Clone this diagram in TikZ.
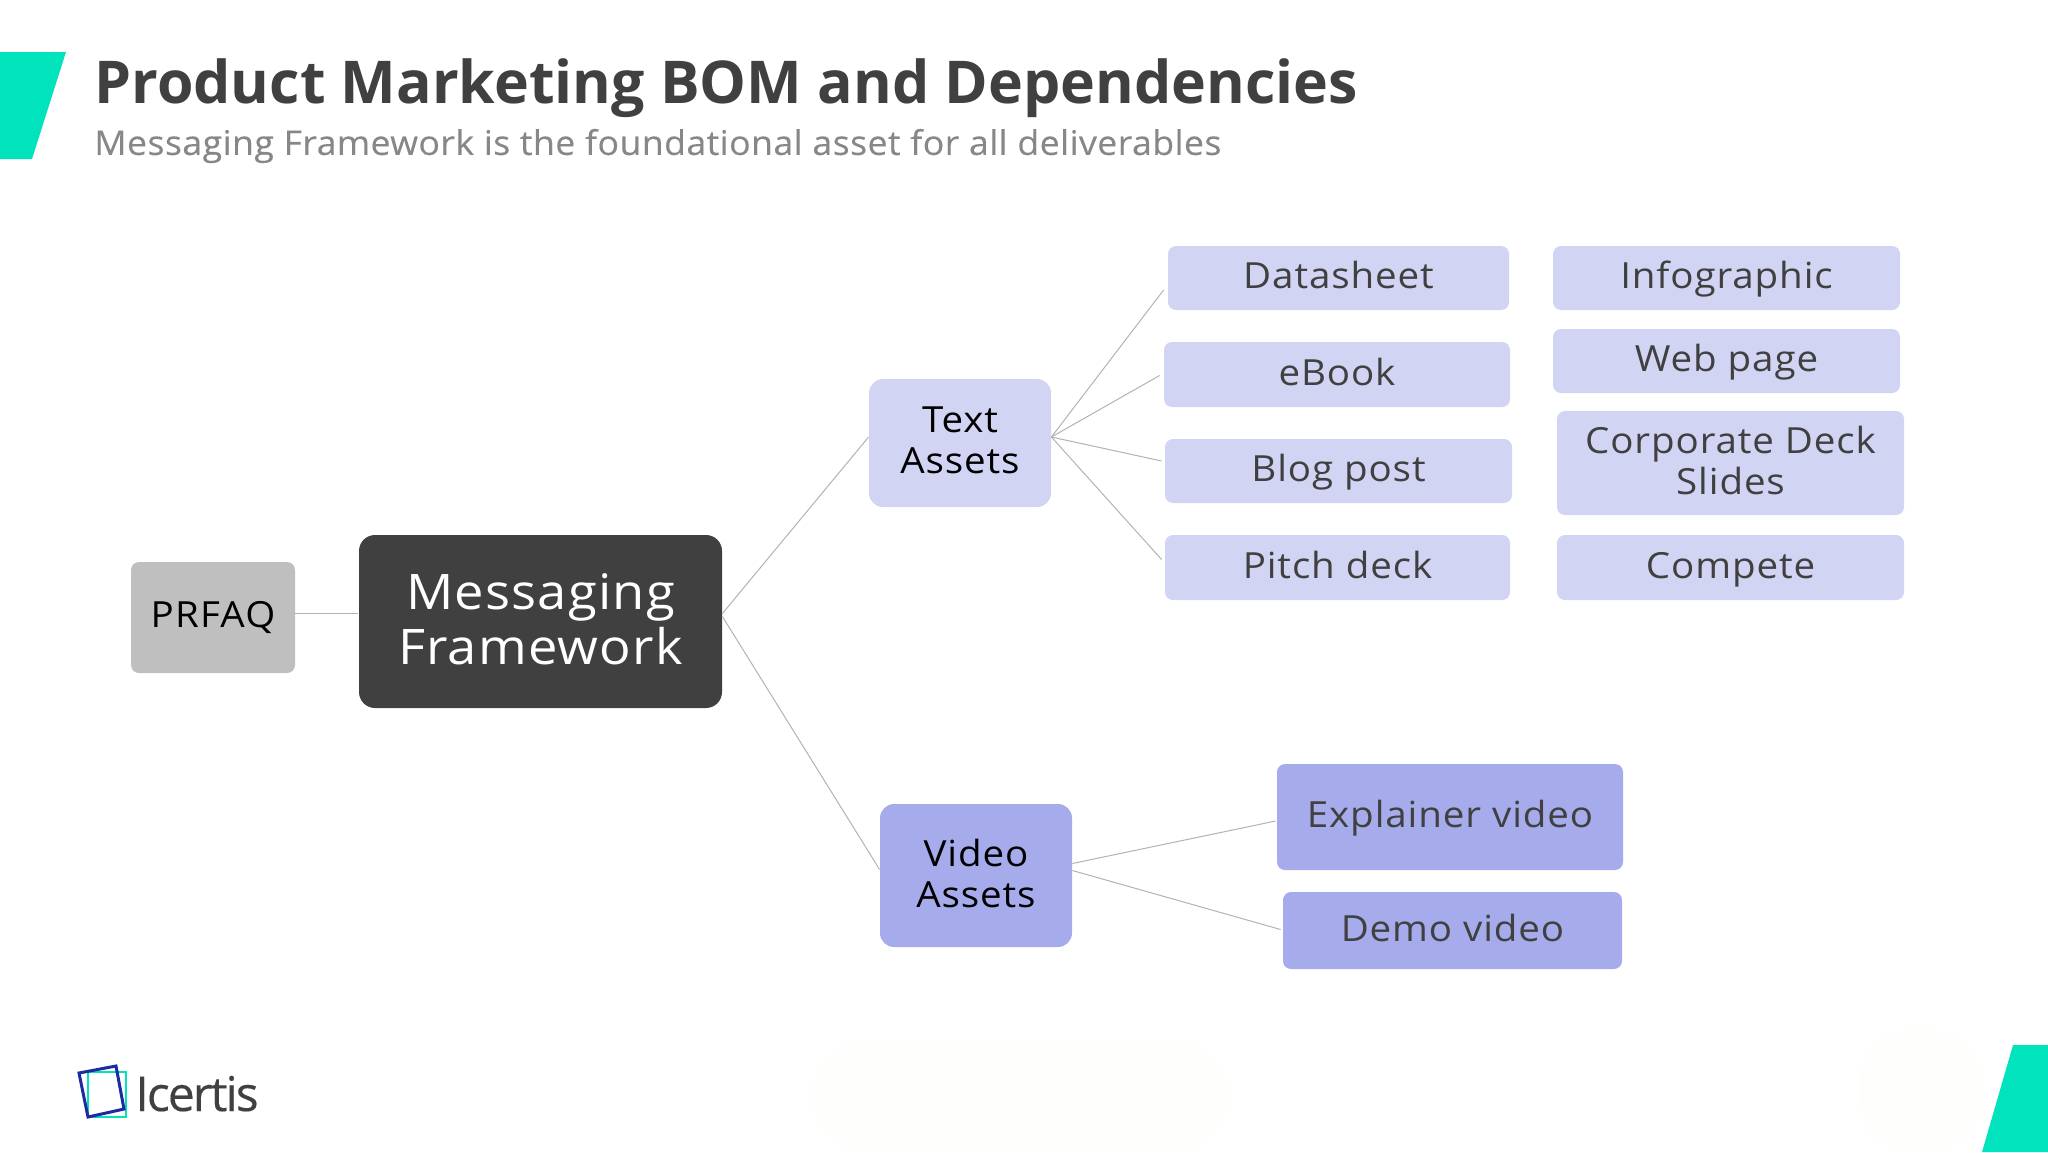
\documentclass[tikz,border=0pt]{standalone}
\usepackage{fontspec}
\setmainfont{Open Sans}
\usetikzlibrary{positioning}

\definecolor{teal1}{HTML}{00E3BD}
\definecolor{ink}{HTML}{404040}
\definecolor{paleblue}{HTML}{D2D4F4}
\definecolor{midblue}{HTML}{A6ABEB}
\definecolor{navy}{HTML}{1E2AA0}
\definecolor{faint}{HTML}{FEFEFC}

\newcommand{\spaced}{\addfontfeatures{FakeStretch=1.07,LetterSpace=2.5}}

\tikzset{
  asset/.style={fill=paleblue,text=ink,rounded corners=4pt,align=center,inner sep=0pt,
    text height=16pt,text depth=5.2pt,font=\fontsize{18}{20.5}\selectfont\spaced},
  group/.style={fill=paleblue,text=black,rounded corners=7pt,align=center,inner sep=0pt,
    text depth=2.6pt,font=\fontsize{18}{20.5}\selectfont\spaced},
  link/.style={draw=black!30,line width=0.5pt}
}

\begin{document}
\begin{tikzpicture}[x=0.5pt,y=-0.5pt]
    \useasboundingbox (0,0) rectangle (2048,1152);

    % corner marks
    \fill[teal1] (0,52) -- (66,52) -- (32,159) -- (0,159) -- cycle;
    \fill[teal1] (2013,1045) -- (2048,1045) -- (2048,1152) -- (1982,1152) -- cycle;

    % faint patches at the bottom
    \fill[faint,rounded corners=30pt] (810,1040) rectangle (1230,1152);
    \fill[faint,rounded corners=25pt] (1860,1030) rectangle (1981,1152);

    \node[anchor=west,inner sep=0pt,text=ink,font=\fontsize{29.5}{30}\selectfont\bfseries] (title) at (94,88) {Product Marketing BOM and Dependencies};
    \node[anchor=west,inner sep=0pt,text=black!47,font=\fontsize{17}{20}\selectfont\addfontfeatures{FakeStretch=1.05,LetterSpace=1.2,FakeBold=0.25}] (subtitle) at (94,146) {Messaging Framework is the foundational asset for all deliverables};

    \node[fill=black!25,text=black,rounded corners=4pt,inner sep=0pt,font=\fontsize{18}{20.5}\selectfont\addfontfeatures{FakeStretch=1.07,LetterSpace=3.5},text height=15pt,text depth=5.2pt,minimum width=82pt,minimum height=55.5pt] (prfaq) at (213,617.5) {PRFAQ};
    \node[fill=ink,text=white,rounded corners=8pt,inner sep=0pt,align=center,text depth=2pt,font=\fontsize{24.5}{27.5}\selectfont\spaced,minimum width=181.5pt,minimum height=86.5pt] (framework) at (540.5,621.5) {Messaging\\Framework};

    \node[group,minimum width=91pt,minimum height=64pt] (textassets) at (960,443) {Text\\Assets};
    \node[group,fill=midblue,minimum width=96pt,minimum height=71.5pt] (videoassets) at (976,875.5) {Video\\Assets};

    \node[asset,minimum width=170.5pt,minimum height=32pt] (datasheet) at (1338.5,278) {Datasheet};
    \node[asset,minimum width=173pt,minimum height=32.5pt] (ebook) at (1337,374.5) {eBook};
    \node[asset,minimum width=173.5pt,minimum height=32pt] (blogpost) at (1338.5,471) {Blog post};
    \node[asset,minimum width=172.5pt,minimum height=32.5pt] (pitchdeck) at (1337.5,567.5) {Pitch deck};

    \node[asset,minimum width=173.5pt,minimum height=32pt] (infographic) at (1726.5,278) {Infographic};
    \node[asset,minimum width=173.5pt,minimum height=32pt] (webpage) at (1726.5,361) {Web page};
    \node[asset,text height=,text depth=2.6pt,minimum width=173.5pt,minimum height=52pt] (deck) at (1730.5,463) {Corporate Deck\\Slides};
    \node[asset,minimum width=173.5pt,minimum height=32.5pt] (compete) at (1730.5,567.5) {Compete};

    \node[asset,fill=midblue,minimum width=173pt,minimum height=53pt] (explainer) at (1450,817) {Explainer video};
    \node[asset,fill=midblue,minimum width=169.5pt,minimum height=38.5pt] (demo) at (1452.5,930.5) {Demo video};

    % connectors stop short of the boxes
    \foreach \from/\fy/\to/\tx/\ty in {prfaq/-4/framework/-1/-8,
        framework/-8/textassets/0/-6,framework/-5/videoassets/0/-6,
        textassets/-6/datasheet/-4/12,textassets/-6/ebook/-4/1,
        textassets/-6/blogpost/-3/-10,textassets/-6/pitchdeck/-3/-8,
        videoassets/-12/explainer/-1/4,videoassets/-5/demo/-2/-1}
    \draw[link] ([shift={(0,\fy)}]\from.east) -- ([shift={(\tx,\ty)}]\to.west);

    % logo
    \draw[teal1,line width=1.4pt] (88,1072) rectangle (126,1117);
    \draw[navy,line width=1.5pt,line join=miter] (79,1073) -- (116,1066) -- (124,1109) -- (88,1117) -- cycle;
    \node[anchor=base west,inner sep=0pt,text=ink,font=\fontsize{24}{26}\selectfont\addfontfeatures{LetterSpace=-4,FakeBold=0.3}] (logotext) at (135,1111) {Icertis};
\end{tikzpicture}
\end{document}
